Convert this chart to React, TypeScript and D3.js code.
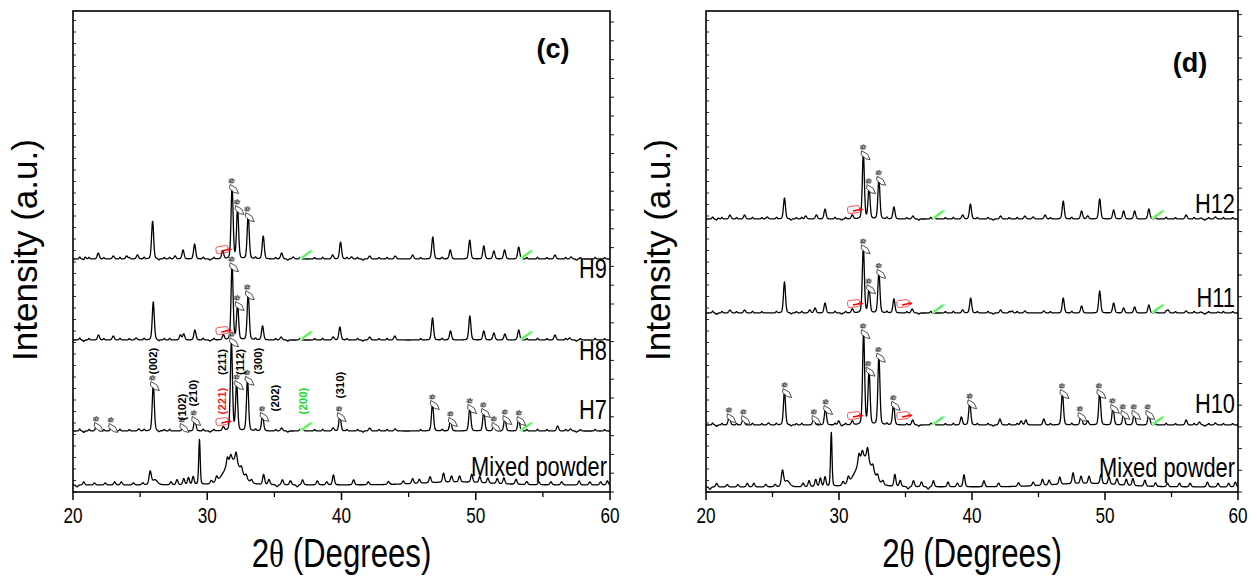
import React from "react";
import * as d3 from "d3";

// peak lists: [2θ (deg), height (a.u.), fwhm?]
type Peak = [number, number, number?];

const H9: Peak[] = [
  [20.9, 2], [21.88, 6], [23.0, 3], [24.0, 3], [24.8, 4], [25.93, 38], [27.6, 3], [28.2, 9], [29.06, 15],
  [31.15, 8], [31.85, 72], [32.26, 50], [33.05, 44], [34.17, 23], [35.54, 6], [36.4, 2], [39.34, 4],
  [39.93, 17], [40.75, 2], [42.1, 3], [44.0, 3], [45.3, 4], [46.8, 22], [48.1, 9], [49.55, 19],
  [50.6, 13], [51.35, 8], [52.15, 9], [53.2, 12], [55.9, 4], [57.1, 2],
];
const H8: Peak[] = [
  [21.9, 5], [23.0, 4], [24.7, 2], [25.98, 38], [28.0, 5], [28.25, 6], [29.08, 10], [31.2, 5],
  [31.85, 75], [32.26, 35], [33.05, 47], [34.12, 14], [35.5, 3], [39.38, 3], [39.88, 13], [42.1, 3],
  [43.97, 4], [46.78, 22], [48.12, 9], [49.56, 24], [50.6, 9], [51.35, 7], [52.17, 6], [53.2, 10],
  [55.9, 5], [57.0, 2],
];
const H7: Peak[] = [
  [21.76, 6], [22.88, 5], [24.9, 2], [25.98, 47], [28.2, 5], [29.08, 12], [31.2, 4], [31.8, 90],
  [32.19, 47], [33.0, 52], [34.12, 16], [35.54, 3], [37.1, 2], [39.38, 3], [39.88, 16], [42.1, 3],
  [44.0, 2], [46.78, 28], [48.12, 11], [49.56, 24], [50.6, 20], [51.35, 6], [52.17, 13], [53.2, 12],
  [56.1, 5], [57.06, 2],
];
const H12: Peak[] = [
  [20.9, 1], [21.8, 4], [22.9, 4], [24.6, 2], [25.9, 21], [27.5, 3], [28.3, 4], [28.95, 10], [31.0, 4],
  [31.83, 66], [32.26, 31], [33.0, 40], [34.13, 12], [35.56, 3], [37.2, 1], [39.3, 4], [39.88, 15],
  [42.15, 3], [43.98, 3], [44.6, 2], [45.5, 4], [46.86, 18], [48.24, 8], [48.7, 3], [49.6, 20],
  [50.65, 9], [51.4, 8], [52.23, 8], [53.3, 10], [56.1, 4], [57.2, 1], [58.3, 2],
];
const H11: Peak[] = [
  [21.8, 3], [22.9, 3], [25.9, 31], [27.8, 3], [28.2, 5], [28.95, 10], [31.0, 4], [31.83, 66],
  [32.26, 25], [33.0, 41], [34.13, 14], [35.5, 4], [39.3, 3], [39.9, 15], [42.15, 3], [43.0, 2],
  [43.98, 2], [45.4, 2], [46.86, 15], [48.24, 7], [49.6, 22], [50.65, 10], [51.4, 5], [52.23, 6],
  [53.3, 8], [54.74, 3], [56.1, 2], [57.2, 1], [58.5, 1],
];
const H10: Peak[] = [
  [21.75, 9], [22.8, 7], [24.7, 2], [25.9, 34], [28.1, 7], [28.98, 17], [29.98, 4], [31.0, 4],
  [31.85, 93], [32.26, 54], [33.0, 69], [34.1, 21], [35.54, 5], [37.1, 2], [39.2, 8], [39.83, 23],
  [42.1, 6], [43.7, 4], [44.05, 5], [45.4, 6], [46.8, 33], [48.2, 10], [48.7, 4], [49.6, 33],
  [50.6, 18], [51.4, 12], [52.2, 12], [53.3, 12], [56.1, 5], [57.1, 3], [58.3, 2],
];
// small baseline wiggles of the crystalline patterns
const RIPPLE: Peak[] = [
  [20.5, 2, 0.12], [20.8, -1.5, 0.12], [21.2, 1.6, 0.12], [22.3, 1.4, 0.12], [23.5, 1.7, 0.12],
  [24.2, 1.4, 0.12], [25.3, 1.6, 0.12], [26.4, -1.2, 0.12], [26.8, 1.4, 0.12], [27.2, 1.6, 0.12],
  [29.7, 1.7, 0.12], [30.5, 1.4, 0.12], [30.2, -1.2, 0.12], [33.6, 1.6, 0.12], [35.1, 1.4, 0.12],
  [36.0, -1.2, 0.12], [36.9, 1.6, 0.12], [38.0, 1.4, 0.12], [38.6, 1.7, 0.12], [40.4, 1.4, 0.12],
  [41.2, 1.6, 0.12], [41.6, -1.2, 0.12], [42.8, 1.4, 0.12], [43.4, 1.6, 0.12], [45.9, 1.4, 0.12],
  [47.5, 1.6, 0.12], [53.8, 1.4, 0.12], [54.6, 1.7, 0.12], [55.3, 1.4, 0.12], [56.7, 1.6, 0.12],
  [57.5, -1.2, 0.12], [57.8, 1.4, 0.12], [58.9, 1.6, 0.12], [59.6, 1.4, 0.12],
];
const MIXED: Peak[] = [
  [20.3, -2], [20.8, 3], [21.6, 2], [22.4, 2], [23.1, 3], [23.6, 3], [24.5, 2], [25.2, 2],
  [25.75, 13, 0.2], [26.1, 5, 0.45], [27.3, 3], [27.75, 5], [28.25, 6], [28.6, 7], [28.95, 8],
  [29.42, 45, 0.13], [30.3, 3], [30.7, 5], [31.9, 25, 1.4], [31.5, 8], [31.75, 6], [32.15, 10],
  [32.55, 5], [32.9, 4], [33.3, 3], [34.2, 10], [34.6, 5], [35.2, -2], [35.6, 5], [36.2, 4], [36.7, -2],
  [37.1, 5], [38.2, 4], [38.9, 3], [39.4, 10], [40.9, 5], [42.0, 3], [43.5, 3], [44.6, 3], [45.3, 5],
  [45.8, 4], [46.6, 6], [47.6, 9], [48.2, 6], [48.8, 6], [49.7, 8], [50.3, 6], [50.9, 5], [51.6, 5],
  [52.1, 6], [53.0, 5], [53.8, 3], [54.7, 3], [55.6, 3], [56.4, 3], [57.7, 4], [58.5, 3], [59.3, 3],
  [59.8, 4], [48.5, 3, 6],
];

const X_TICKS = [20, 30, 40, 50, 60];
const X_MINOR = [25, 35, 45, 55];

const HAND_FEW = [31.85, 32.26, 33.02];
const HAND_ALL = [21.76, 22.85, 25.95, 28.15, 29.03, 31.85, 32.22, 33.0, 34.12, 39.86,
  46.8, 48.15, 49.58, 50.6, 51.38, 52.2, 53.25];

// hkl labels of panel (c): [text, 2θ, intensity, colour]
const HKL: [string, number, number, string][] = [
  ["(002)", 25.93, 131, "#000"], ["(102)", 28.1, 85, "#000"], ["(210)", 28.96, 99, "#000"],
  ["(221)", 31.07, 91, "#ff1a1a"], ["(211)", 31.07, 130, "#000"], ["(112)", 32.43, 130, "#000"],
  ["(300)", 33.8, 131, "#000"], ["(202)", 35.04, 94, "#000"], ["(200)", 37.15, 91, "#22dd22"],
  ["(310)", 39.88, 107, "#000"],
];

const PANELS = [
  {
    tag: "(c)", tagX: 553, tagY: 58, left: 73, right: 610, rightStep: 18.8,
    series: [
      { name: "H9", peaks: H9, offset: 233, gain: 1, labelY: 214, crystal: true, hands: HAND_FEW, reds: [31.2], greens: [37.0, 53.4] },
      { name: "H8", peaks: H8, offset: 152, gain: 1, labelY: 132, crystal: true, hands: HAND_FEW, reds: [31.2], greens: [37.0, 53.4] },
      { name: "H7", peaks: H7, offset: 61, gain: 1, labelY: 73, crystal: true, hands: HAND_ALL, reds: [31.2], greens: [37.0, 53.4] },
      { name: "Mixed powder", peaks: MIXED, offset: 7, gain: 1, labelY: 16, crystal: false, hands: [], reds: [], greens: [] },
    ],
  },
  {
    tag: "(d)", tagX: 1190, tagY: 72, left: 706, right: 1238, rightStep: 21.7,
    series: [
      { name: "H12", peaks: H12, offset: 273, gain: 1, labelY: 279, crystal: true, hands: HAND_FEW, reds: [31.2], greens: [37.1, 53.6] },
      { name: "H11", peaks: H11, offset: 179, gain: 1, labelY: 185, crystal: true, hands: HAND_FEW, reds: [31.2, 34.9], greens: [37.1, 53.6] },
      { name: "H10", peaks: H10, offset: 67, gain: 1, labelY: 79, crystal: true, hands: HAND_ALL, reds: [31.2, 34.9], greens: [37.1, 53.6] },
      { name: "Mixed powder", peaks: MIXED, offset: 5, gain: 1.2, labelY: 15, crystal: false, hands: [], reds: [], greens: [] },
    ],
  },
];

const PLOT_TOP = 11;
const PLOT_BOTTOM = 492;
const GRID = d3.range(20, 60.0001, 0.02);
const FONT = "'Liberation Sans', Arial, sans-serif";

function pv(dx: number, f: number) {
  const u = 4 * (dx / f) ** 2;
  return 0.25 / (1 + u) + 0.75 * Math.exp(-Math.LN2 * u);
}

function profile(s: any): [number, number][] {
  const fw = s.crystal ? 0.18 : 0.17;
  const all: Peak[] = s.crystal ? s.peaks.concat(RIPPLE) : s.peaks;
  return GRID.map((t) => {
    let v = 0;
    for (const pk of all) {
      const f = pk[2] ?? fw;
      const dx = t - pk[0];
      if (Math.abs(dx) > f * 15) continue;
      v += pk[1] * pv(dx, f);
    }
    return [t, s.offset + v * s.gain] as [number, number];
  });
}

// little clip-art marker sitting on a peak top
function Hand({ x, y }: { x: number; y: number }) {
  return (
    <g transform={`translate(${x},${y + 4})`}>
      <ellipse cx={-0.5} cy={-10} rx={3.2} ry={2.6} fill="#aaa" />
      <path d="M-3,-12 l1.5,1.5 l1.5,-2 l1,2.5 l1.5,-1.5 M-3.5,-9 l5,0.5 M-1.5,-11 l0,3" stroke="#444" strokeWidth={0.8} fill="none" />
      <path d="M-2,-6.5 L4,-3 L6.5,2.5 L2,1.5 L-2.5,-2.5 Z" fill="#fff" stroke="#222" strokeWidth={0.8} />
    </g>
  );
}

function RedMark({ x, y }: { x: number; y: number }) {
  return (
    <g transform={`translate(${x},${y})`}>
      <rect x={-6} y={-13} width={12} height={7} rx={2} fill="none" stroke="#ff3030" strokeWidth={0.8} transform="rotate(-8)" />
      <path d="M-2,-8 L5,-9.5" stroke="#e00" strokeWidth={1.4} />
      <path d="M5,-11.5 L8.5,-9.8 L5.5,-7.5 Z" fill="#e00" />
    </g>
  );
}

function GreenMark({ x, y }: { x: number; y: number }) {
  return (
    <g transform={`translate(${x},${y})`}>
      <line x1={0} y1={-1} x2={10} y2={-8} stroke="#9f9" strokeWidth={3} strokeLinecap="round" />
      <line x1={1} y1={-1.5} x2={9.5} y2={-7.7} stroke="#2c2" strokeWidth={0.8} />
    </g>
  );
}

function Panel({ p }: { p: any }) {
  const x = d3.scaleLinear().domain([20, 60]).range([p.left, p.right]);
  const y = d3.scaleLinear().domain([0, PLOT_BOTTOM - PLOT_TOP]).range([PLOT_BOTTOM, PLOT_TOP]);
  const line = d3.line<[number, number]>().x((d) => x(d[0])).y((d) => y(d[1]));
  const leftTicks = d3.range(0, PLOT_BOTTOM - PLOT_TOP, 11.5);
  const rightTicks = d3.range(0, PLOT_BOTTOM - PLOT_TOP, p.rightStep);
  const cx = (p.left + p.right) / 2;
  return (
    <g>
      {p.series.map((s: any) => {
        const prof = profile(s);
        const topAt = (pos: number) => {
          const near = prof.filter((d) => Math.abs(d[0] - pos) <= 0.12);
          return d3.max(near, (d) => d[1]) ?? s.offset;
        };
        return (
          <g key={s.name + p.tag}>
            <path d={line(prof) ?? ""} fill="none" stroke="#000" strokeWidth={1.3} strokeLinejoin="round" />
            {s.reds.map((r: number) => <RedMark key={r} x={x(r)} y={y(s.offset)} />)}
            {s.greens.map((g: number) => <GreenMark key={g} x={x(g)} y={y(s.offset)} />)}
            {s.hands.map((h: number) => <Hand key={h} x={x(h)} y={y(topAt(h))} />)}
            <text transform={`translate(${p.right - 3},${y(s.labelY)}) scale(0.78,1)`} textAnchor="end"
              fontSize={28} fontFamily={FONT}>{s.name}</text>
          </g>
        );
      })}
      {p.tag === "(c)" && HKL.map(([t, pos, v, c]) => (
        <text key={t + pos} transform={`translate(${x(pos) + 4},${y(v)}) rotate(-90)`} textAnchor="middle"
          fontSize={11.5} fontWeight="bold" fill={c} fontFamily={FONT}>{t}</text>
      ))}
      <rect x={p.left} y={PLOT_TOP} width={p.right - p.left} height={PLOT_BOTTOM - PLOT_TOP} fill="none" stroke="#000" strokeWidth={1.6} />
      {leftTicks.map((t) => <line key={"l" + t} x1={p.left} x2={p.left + 3} y1={y(t)} y2={y(t)} stroke="#000" strokeWidth={0.8} />)}
      {rightTicks.map((t) => <line key={"r" + t} x1={p.right} x2={p.right + 4} y1={y(t)} y2={y(t)} stroke="#000" strokeWidth={0.9} />)}
      {X_TICKS.map((t) => (
        <g key={"x" + t}>
          <line x1={x(t)} x2={x(t)} y1={PLOT_BOTTOM} y2={PLOT_BOTTOM + 8} stroke="#000" strokeWidth={1.5} />
          <text transform={`translate(${x(t)},523) scale(0.78,1)`} textAnchor="middle" fontSize={22} fontFamily={FONT}>{t}</text>
        </g>
      ))}
      {X_MINOR.map((t) => <line key={"m" + t} x1={x(t)} x2={x(t)} y1={PLOT_BOTTOM} y2={PLOT_BOTTOM + 5} stroke="#000" strokeWidth={1.3} />)}
      <text transform={`translate(${cx},567) scale(0.78,1)`} textAnchor="middle" fontSize={40} fontFamily={FONT}>
        2<tspan fontFamily="'Liberation Serif', serif">θ</tspan> (Degrees)
      </text>
      <text transform={`translate(${p.left - 36},250) rotate(-90)`} textAnchor="middle" fontSize={35} fontFamily={FONT}>
        Intensity (a.u.)
      </text>
      <text x={p.tagX} y={p.tagY} textAnchor="middle" fontSize={27} fontWeight="bold" fontFamily={FONT}>{p.tag}</text>
    </g>
  );
}

export default function App() {
  return (
    <svg width={1257} height={577} style={{ position: "absolute", left: 0, top: 0, background: "#fff" }}>
      {PANELS.map((p) => <Panel key={p.tag} p={p} />)}
    </svg>
  );
}
